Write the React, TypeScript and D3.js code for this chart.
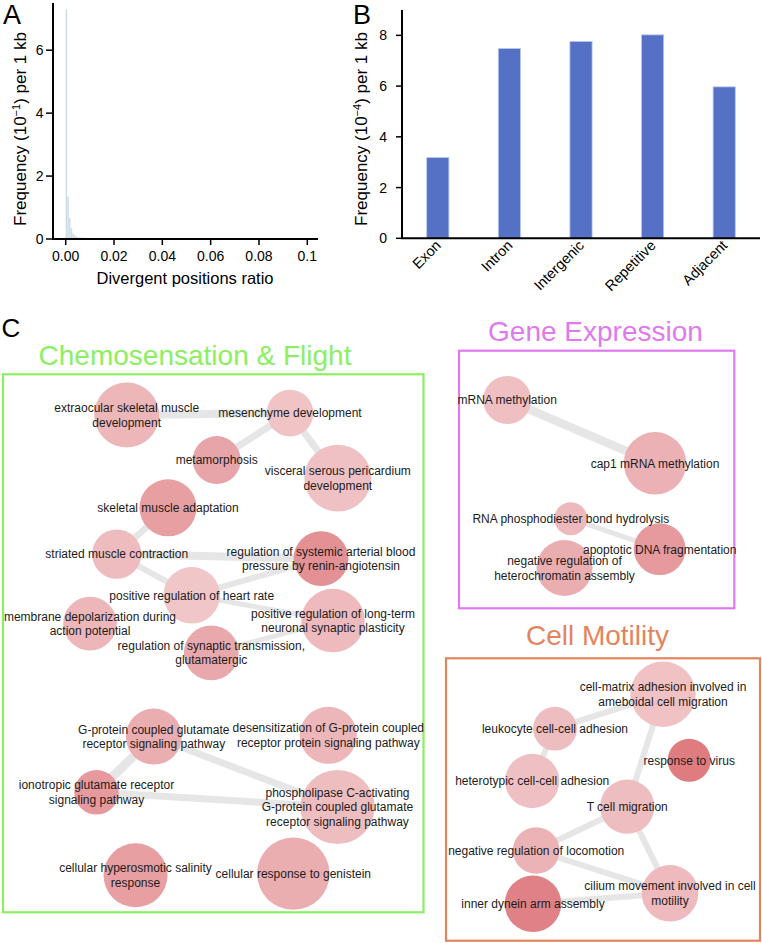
import React from 'react';
import * as d3 from 'd3';

const FONT = "'Liberation Sans', Arial, Helvetica, sans-serif";

// ---------- Panel A: histogram of divergent positions ratio ----------
const histBinWidth = 0.0007;
const histValues = [7.3, 1.34, 0.66, 0.34, 0.18, 0.11, 0.08, 0.06, 0.05, 0.045, 0.04, 0.035, 0.035, 0.03, 0.03, 0.03, 0.03, 0.03, 0.03, 0.03];
const tailStart = 0.014;
const tailBinWidth = 0.002;
const tailValues = [0.035, 0.035, 0.03, 0.03, 0.03, 0.03, 0.03, 0.03, 0.03, 0.03, 0.03, 0.03, 0.03, 0.03, 0.03, 0.03, 0.03, 0.03, 0.03, 0.03, 0.03, 0.03, 0.03, 0.03, 0.03, 0.03, 0.03, 0.03, 0.03, 0.03, 0.03, 0.03, 0.03, 0.03, 0.03, 0.03, 0.03, 0.03, 0.03, 0.03, 0.03, 0.03, 0.03];
const histXTicks = [0, 0.02, 0.04, 0.06, 0.08, 0.1];
const histXTickLabels = ['0.00', '0.02', '0.04', '0.06', '0.08', '0.1'];
const histYTicks = [0, 2, 4, 6];

// ---------- Panel B: frequency per genomic region ----------
const regionCategories = ['Exon', 'Intron', 'Intergenic', 'Repetitive', 'Adjacent'];
const regionValues = [3.18, 7.48, 7.76, 8.02, 5.97];
const regionYTicks = [0, 2, 4, 6, 8];

// ---------- Panel C: GO term clusters ----------
const clusterTitles = ['Chemosensation & Flight', 'Gene Expression', 'Cell Motility'];

const chemoTerms = [
  'extraocular skeletal muscle\ndevelopment',
  'mesenchyme development',
  'metamorphosis',
  'visceral serous pericardium\ndevelopment',
  'skeletal muscle adaptation',
  'striated muscle contraction',
  'regulation of systemic arterial blood\npressure by renin-angiotensin',
  'positive regulation of heart rate',
  'membrane depolarization during\naction potential',
  'positive regulation of long-term\nneuronal synaptic plasticity',
  'regulation of synaptic transmission,\nglutamatergic',
  'G-protein coupled glutamate\nreceptor signaling pathway',
  'desensitization of G-protein coupled\nreceptor protein signaling pathway',
  'ionotropic glutamate receptor\nsignaling pathway',
  'phospholipase C-activating\nG-protein coupled glutamate\nreceptor signaling pathway',
  'cellular hyperosmotic salinity\nresponse',
  'cellular response to genistein',
];
const chemoLayoutX = [123.7, 287, 213.7, 334.8, 165, 113.7, 318, 188.7, 87, 330, 208.3, 150.8, 325.3, 93.5, 334.5, 132.5, 290.3];
const chemoLayoutY = [40.7, 38.8, 85.8, 103.8, 133.5, 179.8, 184.3, 221, 249.3, 246.3, 278.5, 362.3, 361, 418, 432.7, 501, 499.3];
const chemoSize = [66, 34, 36, 70, 51, 38, 47, 50, 45, 63, 47, 49, 51, 31, 86, 64, 82];
const chemoShade = [0.31, 0.17, 0.48, 0.19, 0.55, 0.24, 0.7, 0.14, 0.31, 0.26, 0.45, 0.4, 0.29, 0.6, 0.23, 0.55, 0.4];
const chemoEdges: [number, number, number][] = [
  [0, 1, 0.7], [1, 2, 0.6], [1, 3, 0.6], [4, 5, 0.55], [5, 6, 0.7], [5, 7, 0.5],
  [7, 6, 0.5], [7, 9, 0.4], [10, 9, 0.4], [11, 13, 0.8], [11, 14, 0.6], [13, 14, 0.6],
];

const geneTerms = [
  'mRNA methylation',
  'cap1 mRNA methylation',
  'RNA phosphodiester bond hydrolysis',
  'apoptotic DNA fragmentation',
  'negative regulation of\nheterochromatin assembly',
];
const geneLayoutX = [48.2, 196, 111.8, 200.7, 105.5];
const geneLayoutY = [49.3, 112.6, 168, 198.5, 217.3];
const geneSize = [36, 61, 17, 42, 49];
const geneShade = [0.21, 0.36, 0.27, 0.6, 0.4];
const geneEdges: [number, number, number][] = [[0, 1, 0.75], [2, 3, 0.4]];

const motilityTerms = [
  'cell-matrix adhesion involved in\nameboidal cell migration',
  'leukocyte cell-cell adhesion',
  'response to virus',
  'heterotypic cell-cell adhesion',
  'T cell migration',
  'negative regulation of locomotion',
  'cilium movement involved in cell\nmotility',
  'inner dynein arm assembly',
];
const motilityLayoutX = [217, 109, 243.2, 86.2, 181.2, 90.2, 224, 87];
const motilityLayoutY = [35.9, 70.4, 102, 122.7, 148.4, 192.2, 235, 245.5];
const motilitySize = [67, 30, 29, 46, 46, 34, 50, 50];
const motilityShade = [0.18, 0.23, 0.92, 0.2, 0.23, 0.34, 0.26, 0.86];
const motilityEdges: [number, number, number][] = [
  [0, 1, 0.5], [1, 3, 0.5], [0, 4, 0.5], [4, 5, 0.5], [4, 6, 0.5], [5, 6, 0.5], [7, 6, 0.5],
];

// ---------- layout constants ----------
const A = { axisX: 53, top: 3, base: 239, right: 318, x0: 65.7, x1: 307.3 };
const B = { axisX: 402, top: 10, base: 238.3, right: 760 };

const rScale = d3.scaleSqrt().domain([0, 100]).range([0, 40]);
const edgeW = d3.scaleLinear().domain([0, 1]).range([1, 11]);
const shadeColor = d3.scaleLinear<string>().domain([0, 1]).range(['#f4d3d5', '#dc7479']).interpolate(d3.interpolateRgb);

type Cluster = {
  title: string; color: string; box: [number, number, number, number]; titleX: number; titleY: number;
  terms: string[]; lx: number[]; ly: number[]; size: number[]; shade: number[]; edges: [number, number, number][];
};

const clusters: Cluster[] = [
  { title: clusterTitles[0], color: '#8cef62', box: [3, 374.3, 423.5, 912.3], titleX: 195, titleY: 365,
    terms: chemoTerms, lx: chemoLayoutX, ly: chemoLayoutY, size: chemoSize, shade: chemoShade, edges: chemoEdges },
  { title: clusterTitles[1], color: '#df7aee', box: [459, 350.7, 734.3, 608.3], titleX: 595.5, titleY: 340.5,
    terms: geneTerms, lx: geneLayoutX, ly: geneLayoutY, size: geneSize, shade: geneShade, edges: geneEdges },
  { title: clusterTitles[2], color: '#e3845e', box: [446, 658.3, 760, 940.7], titleX: 597.5, titleY: 645,
    terms: motilityTerms, lx: motilityLayoutX, ly: motilityLayoutY, size: motilitySize, shade: motilityShade, edges: motilityEdges },
];

function PanelA() {
  const x = d3.scaleLinear().domain([0, 0.1]).range([A.x0, A.x1]);
  const y = d3.scaleLinear().domain([0, 7.5]).range([A.base, A.top]);
  const bins = [
    ...histValues.map((v, i) => ({ x0: i * histBinWidth, x1: (i + 1) * histBinWidth, v })),
    ...tailValues.map((v, i) => ({ x0: tailStart + i * tailBinWidth, x1: tailStart + (i + 1) * tailBinWidth, v })),
  ];
  return (
    <g>
      {bins.map((b, i) => (
        <rect key={i} x={x(b.x0)} y={y(b.v)} width={Math.max(0.5, x(b.x1) - x(b.x0) - 0.3)} height={A.base - y(b.v)} fill="#c9dce5" />
      ))}
      <path d={`M${A.axisX},${A.top} V${A.base} H${A.right}`} fill="none" stroke="#000" strokeWidth={2} />
      {histYTicks.map(t => (
        <g key={t}>
          <line x1={A.axisX - 7} x2={A.axisX} y1={y(t)} y2={y(t)} stroke="#000" strokeWidth={1.5} />
          <text x={A.axisX - 9.5} y={y(t)} dy="0.36em" textAnchor="end" fontSize={14}>{t}</text>
        </g>
      ))}
      {histXTicks.map((t, i) => (
        <g key={t}>
          <line x1={x(t)} x2={x(t)} y1={A.base} y2={A.base + 6} stroke="#000" strokeWidth={1.5} />
          <text x={x(t)} y={261} textAnchor="middle" fontSize={14}>{histXTickLabels[i]}</text>
        </g>
      ))}
      <text x={185} y={283.5} textAnchor="middle" fontSize={16.5}>Divergent positions ratio</text>
      <text transform="translate(25.5,129) rotate(-90)" textAnchor="middle" fontSize={17}>
        Frequency (10<tspan dy={-6} fontSize={11}>−1</tspan><tspan dy={6}>) per 1 kb</tspan>
      </text>
      <text x={3} y={23.5} fontSize={27}>A</text>
    </g>
  );
}

function PanelB() {
  const x = d3.scaleBand<string>().domain(regionCategories).range([B.axisX, B.right]).paddingInner(0.69).paddingOuter(0.345);
  const y = d3.scaleLinear().domain([0, 9]).range([B.base, B.top]);
  return (
    <g>
      {regionCategories.map((c, i) => (
        <rect key={c} x={x(c)} y={y(regionValues[i])} width={x.bandwidth()} height={B.base - y(regionValues[i])}
          fill="#5571c5" stroke="#b9c8ee" strokeWidth={0.8} />
      ))}
      <path d={`M${B.axisX},${B.top} V${B.base} H${B.right}`} fill="none" stroke="#000" strokeWidth={2} />
      {regionYTicks.map(t => (
        <g key={t}>
          <line x1={B.axisX - 6} x2={B.axisX} y1={y(t)} y2={y(t)} stroke="#000" strokeWidth={1.5} />
          <text x={B.axisX - 15} y={y(t)} dy="0.36em" textAnchor="end" fontSize={14}>{t}</text>
        </g>
      ))}
      {regionCategories.map(c => {
        const cx = (x(c) as number) + x.bandwidth() / 2;
        return (
          <text key={c} transform={`translate(${cx + 4},${B.base + 8}) rotate(-45)`} textAnchor="end" fontSize={14.5}>{c}</text>
        );
      })}
      <text transform="translate(366.5,129) rotate(-90)" textAnchor="middle" fontSize={17}>
        Frequency (10<tspan dy={-6} fontSize={11}>−4</tspan><tspan dy={6}>) per 1 kb</tspan>
      </text>
      <text x={353} y={23.5} fontSize={27}>B</text>
    </g>
  );
}

function ClusterView({ c }: { c: Cluster }) {
  const [l, t, r, b] = c.box;
  const sx = d3.scaleLinear().domain([0, r - l]).range([l, r]);
  const sy = d3.scaleLinear().domain([0, b - t]).range([t, b]);
  const lineH = 14.6;
  return (
    <g>
      <text x={c.titleX} y={c.titleY} textAnchor="middle" fontSize={28} fill={c.color}>{c.title}</text>
      <rect x={l} y={t} width={r - l} height={b - t} fill="none" stroke={c.color} strokeWidth={2.2} />
      {c.edges.map(([a, z, w], i) => (
        <line key={i} x1={sx(c.lx[a])} y1={sy(c.ly[a])} x2={sx(c.lx[z])} y2={sy(c.ly[z])}
          stroke="#e6e6e6" strokeWidth={edgeW(w)} />
      ))}
      {c.terms.map((term, i) => (
        <circle key={i} cx={sx(c.lx[i])} cy={sy(c.ly[i])} r={rScale(c.size[i])} fill={shadeColor(c.shade[i])} />
      ))}
      {c.terms.map((term, i) => {
        const lines = term.split('\n');
        const cx = sx(c.lx[i]);
        const cy = sy(c.ly[i]);
        return (
          <text key={i} x={cx} textAnchor="middle" fontSize={12} fill="#1c1c1c">
            {lines.map((ln, k) => (
              <tspan key={k} x={cx} y={cy + (k - (lines.length - 1) / 2) * lineH} dy="0.36em">{ln}</tspan>
            ))}
          </text>
        );
      })}
    </g>
  );
}

export default function App() {
  return (
    <svg width={762} height={943} viewBox="0 0 762 943" fontFamily={FONT}
      style={{ position: 'absolute', left: 0, top: 0, background: '#fff', display: 'block' }}>
      <rect x={0} y={0} width={762} height={943} fill="#fff" />
      <PanelA />
      <PanelB />
      <text x={1.5} y={337} fontSize={26}>C</text>
      {clusters.map((c, i) => <ClusterView key={i} c={c} />)}
    </svg>
  );
}
